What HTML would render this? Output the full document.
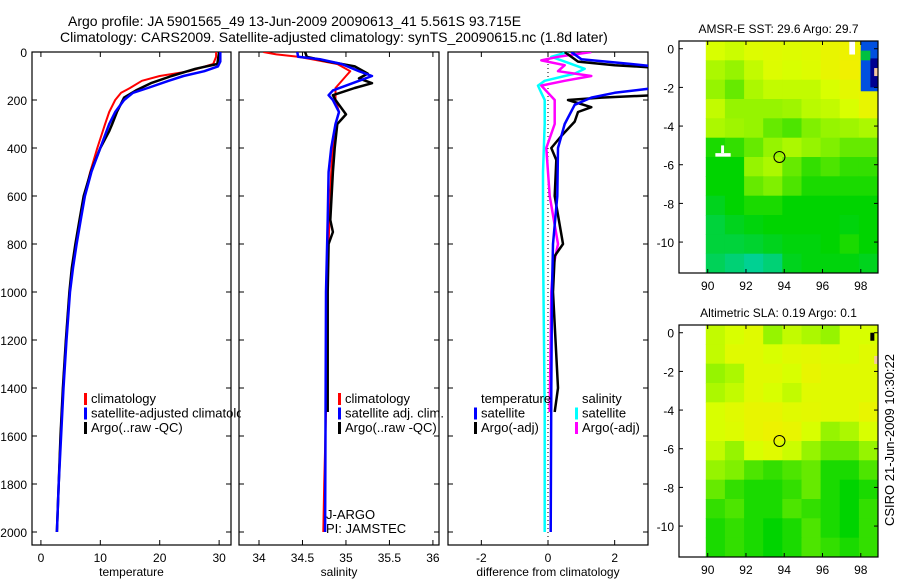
<!DOCTYPE html>
<html><head><meta charset="utf-8">
<style>
html,body{margin:0;padding:0;background:#fff;}
svg{display:block;font-family:"Liberation Sans",sans-serif;}
</style></head>
<body>
<svg id="fig" width="900" height="580" viewBox="0 0 900 580" xmlns="http://www.w3.org/2000/svg">
<defs><clipPath id="legclip"><rect x="0" y="0" width="241" height="580"/></clipPath></defs>
<text x="68" y="26" font-size="14">Argo profile: JA 5901565_49 13-Jun-2009 20090613_41 5.561S 93.715E</text>
<text x="60" y="42" font-size="14">Climatology: CARS2009. Satellite-adjusted climatology: synTS_20090615.nc (1.8d later)</text>
<text transform="translate(894,440) rotate(-90)" text-anchor="middle" font-size="13">CSIRO 21-Jun-2009 10:30:22</text>
</svg>
<script>
// ---------- data ----------
const tempClimDepth=[0,20,50,80,100,120,150,170,200,250,300,400,500,600,700,800,900,1000,1200,1400,1600,1800,2000];
const tempClim=[29.5,29.5,29,25,20,17,15,13.5,12.5,11.5,10.8,9.5,8.3,7.3,6.6,5.9,5.3,4.8,4.2,3.7,3.3,3.0,2.7];
const tempSatDepth=[0,40,60,80,100,120,150,170,200,250,300,400,500,600,700,800,900,1000,1200,1400,1600,1800,2000];
const tempSat=[30.2,30.2,29.8,27.5,24,21.5,18,15.5,14,12.5,11.5,10,8.5,7.4,6.7,6.0,5.4,4.9,4.3,3.8,3.4,3.0,2.7];
const tempArgoDepth=[0,50,70,100,130,160,190,250,300,330,400,500,600,700,800,900,1000,1200,1400,1600,1800,2000];
const tempArgo=[30.0,29.7,26,22,18.5,16,14,12.8,12.0,11.5,10,8.4,7.2,6.5,5.8,5.2,4.8,4.2,3.7,3.3,3.0,2.7];

const salClimDepth=[0,10,20,30,50,80,100,150,200,250,300,400,500,600,800,1000,1500,1800,2000];
const salClim=[34.05,34.2,34.45,34.6,34.9,35.05,35.0,34.88,34.88,34.92,34.88,34.85,34.83,34.82,34.8,34.77,34.77,34.75,34.74];
const salSatDepth=[0,20,30,50,80,100,120,160,180,200,250,300,400,500,700,1000,2000];
const salSat=[34.44,34.45,34.7,34.95,35.15,35.3,35.15,34.85,34.8,34.85,34.92,34.88,34.83,34.8,34.79,34.77,34.76];
const salArgoDepth=[0,20,40,60,90,110,130,150,180,200,260,300,400,500,700,750,800,1000,1400,1500];
const salArgo=[34.53,34.55,34.8,35.1,35.25,35.15,35.3,35.1,34.85,34.88,35.0,34.9,34.87,34.85,34.82,34.85,34.8,34.79,34.79,34.79];

const dTempSatDepth=[0,30,50,60,150,170,190,220,300,400,600,800,1000,1400,2000];
const dTempSat=[0.7,1.0,2.5,3.2,3.2,2.0,1.3,0.8,0.5,0.3,0.28,0.15,0.12,0.1,0.08];
const dTempArgoDepth=[0,40,55,65,180,190,200,230,250,290,350,400,450,600,800,850,1000,1400,1500];
const dTempArgo=[0.5,0.9,2.0,3.2,3.2,1.6,0.6,1.3,0.9,0.8,0.4,0.1,0.25,0.2,0.45,0.2,0.15,0.3,0.2];
const dSalSatDepth=[0,20,40,70,90,120,140,170,200,300,500,800,1500,2000];
const dSalSat=[0.6,0.1,0.5,1.1,0.8,-0.1,-0.3,-0.2,-0.1,-0.1,-0.15,-0.15,-0.1,-0.1];
const dSalArgoDepth=[0,20,35,55,80,100,120,140,170,200,300,400,600,800,900,1000,1500];
const dSalArgo=[1.3,0.3,-0.2,0.5,0.3,1.3,0.5,-0.2,0,0.2,0.2,-0.05,0.05,0.3,0.15,0.1,0.05];

const depthTicks=[0,200,400,600,800,1000,1200,1400,1600,1800,2000];
const tempTicks=[0,10,20,30];
const salTicks=[34,34.5,35,35.5,36];
const salTickLabels=["34","34.5","35","35.5","36"];
const diffTicks=[-2,0,2];
const lonTicks=[90,92,94,96,98];
const latTicks=[0,-2,-4,-6,-8,-10];

// 1-degree grids, rows lat 0.4 -> -11.6, cols lon 89.9 -> 98.9 (0=teal,1=orange)
const sstGrid=[
[0.75,0.72,0.78,0.8,0.78,0.8,0.85,0.88,0.9],
[0.65,0.6,0.7,0.78,0.75,0.78,0.85,0.9,0.88],
[0.6,0.5,0.65,0.7,0.7,0.7,0.75,0.82,0.85],
[0.7,0.6,0.6,0.6,0.62,0.68,0.7,0.75,0.85],
[0.65,0.62,0.6,0.5,0.45,0.55,0.6,0.62,0.65],
[0.35,0.4,0.5,0.6,0.65,0.6,0.55,0.5,0.5],
[0.3,0.3,0.6,0.65,0.5,0.4,0.45,0.4,0.4],
[0.3,0.3,0.5,0.55,0.45,0.35,0.35,0.35,0.35],
[0.25,0.3,0.35,0.35,0.3,0.3,0.3,0.3,0.3],
[0.2,0.25,0.28,0.3,0.3,0.3,0.3,0.28,0.3],
[0.2,0.2,0.22,0.25,0.28,0.28,0.3,0.35,0.3],
[0.15,0.1,0.05,0.1,0.25,0.28,0.28,0.28,0.25]];
const slaGrid=[
[0.7,0.75,0.8,0.6,0.7,0.65,0.6,0.75,0.75],
[0.7,0.8,0.8,0.75,0.8,0.82,0.78,0.75,0.8],
[0.6,0.65,0.8,0.8,0.75,0.85,0.8,0.8,0.8],
[0.65,0.7,0.8,0.75,0.7,0.8,0.8,0.8,0.8],
[0.75,0.8,0.85,0.85,0.8,0.82,0.8,0.8,0.85],
[0.75,0.78,0.85,0.88,0.85,0.75,0.6,0.65,0.75],
[0.7,0.6,0.75,0.8,0.72,0.6,0.5,0.5,0.6],
[0.6,0.55,0.45,0.4,0.45,0.5,0.35,0.35,0.45],
[0.5,0.4,0.35,0.35,0.4,0.5,0.35,0.3,0.35],
[0.4,0.45,0.35,0.35,0.45,0.4,0.35,0.3,0.4],
[0.35,0.4,0.35,0.3,0.35,0.45,0.35,0.3,0.4],
[0.35,0.4,0.35,0.3,0.35,0.45,0.4,0.35,0.4]];
const floatLon=93.75, floatLat=-5.6;

// ---------- helpers ----------
const NS="http://www.w3.org/2000/svg";
const svg=document.getElementById('fig');
function mk(tag,attrs,parent){const e=document.createElementNS(NS,tag);for(const k in attrs)e.setAttribute(k,attrs[k]);(parent||svg).appendChild(e);return e;}
function txt(x,y,s,size,anchor,parent){const t=mk('text',{x:x,y:y,'font-size':size,'text-anchor':anchor||'start'},parent);t.textContent=s;return t;}

const yTop=52, yScale=0.24;
const yD=d=>yTop+d*yScale;

function panel(name,x0,x1,xmin,xmax,ticks,labels,xlabel){
  const g=mk('g',{});
  
  
  const xs=v=>x0+(v-xmin)/(xmax-xmin)*(x1-x0);
  const box=mk('rect',{x:x0,y:yTop,width:x1-x0,height:545-yTop,fill:'none',stroke:'#000','stroke-width':1.2},g);
  
  
  ticks.forEach((v,i)=>{
    const x=xs(v);
    mk('line',{x1:x,y1:545,x2:x,y2:540,stroke:'#000'},g);
    mk('line',{x1:x,y1:yTop,x2:x,y2:yTop+5,stroke:'#000'},g);
    const t=txt(x,562,labels[i],12,'middle',g);
    
    
  });
  depthTicks.forEach(d=>{
    mk('line',{x1:x0,y1:yD(d),x2:x0+5,y2:yD(d),stroke:'#000'},g);
    mk('line',{x1:x1,y1:yD(d),x2:x1-5,y2:yD(d),stroke:'#000'},g);
  });
  const xl=txt((x0+x1)/2,576,xlabel,12,'middle',g);
  
  
  return {g,xs,x0,x1};
}
function series(p,depths,vals,color,w,name){
  const pts=depths.map((d,i)=>p.xs(vals[i]).toFixed(1)+','+yD(d).toFixed(1)).join(' ');
  const pl=mk('polyline',{points:pts,fill:'none',stroke:color,'stroke-width':w,'stroke-linejoin':'round'},p.g);
  
  
  pl.setAttribute('clip-path','url(#clip-'+p.x0+')');
}
function clipFor(p){
  const cp=mk('clipPath',{id:'clip-'+p.x0});
  mk('rect',{x:p.x0,y:yTop,width:p.x1-p.x0,height:545-yTop},cp);
}
function legend(p,x,y,items,clip){
  items.forEach((it,i)=>{
    const yy=y+i*14.5;
    if(it[1]){
      const m=mk('rect',{x:x,y:yy-10,width:3,height:12,fill:it[1]},p.g);
      
      
    }
    const t=txt(x+7,yy,it[0],13,'start',p.g);
    
    
    if(clip)t.setAttribute('clip-path','url(#legclip)');
  });
}

// depth labels
depthTicks.forEach(d=>{
  const t=txt(27,yD(d)+5,String(d),12,'end');
  
  
});

const p1=panel('temperature-panel',32,231,-1.5,32,tempTicks,tempTicks.map(String),'temperature');
clipFor(p1);
series(p1,tempClimDepth,tempClim,'#ff0000',2,'temp-climatology-line');
series(p1,tempArgoDepth,tempArgo,'#000',2.5,'temp-argo-line');
series(p1,tempSatDepth,tempSat,'#0000ff',2.5,'temp-satellite-line');
legend(p1,84,403,[['climatology','#ff0000'],['satellite-adjusted climatology','#0000ff'],['Argo(..raw -QC)','#000']],true);

const p2=panel('salinity-panel',239,439,33.77,36.07,salTicks,salTickLabels,'salinity');
clipFor(p2);
series(p2,salClimDepth,salClim,'#ff0000',2,'sal-climatology-line');
series(p2,salArgoDepth,salArgo,'#000',2.5,'sal-argo-line');
series(p2,salSatDepth,salSat,'#0000ff',2.5,'sal-satellite-line');
legend(p2,338,403,[['climatology','#ff0000'],['satellite adj. clim.','#0000ff'],['Argo(..raw -QC)','#000']]);
const ja=txt(326,519,'J-ARGO',13,'start',p2.g);
const pi=txt(326,533,'PI: JAMSTEC',13,'start',p2.g);

const p3=panel('difference-panel',448,648,-3,3,diffTicks,diffTicks.map(String),'difference from climatology');
clipFor(p3);
mk('line',{x1:p3.xs(0),y1:yTop,x2:p3.xs(0),y2:545,stroke:'#000','stroke-dasharray':'1,3'},p3.g);
series(p3,dSalSatDepth,dSalSat,'#00ffff',2.5,'diff-sal-satellite-line');
series(p3,dSalArgoDepth,dSalArgo,'#ff00ff',2.5,'diff-sal-argo-line');
series(p3,dTempArgoDepth,dTempArgo,'#000',2.5,'diff-temp-argo-line');
series(p3,dTempSatDepth,dTempSat,'#0000ff',2.5,'diff-temp-satellite-line');
legend(p3,474,403,[['temperature',null],['satellite','#0000ff'],['Argo(-adj)','#000']]);
legend(p3,575,403,[['salinity',null],['satellite','#00ffff'],['Argo(-adj)','#ff00ff']]);

// ---------- maps ----------
const stops=[[0,[0,208,176]],[0.3,[0,212,0]],[0.55,[128,240,0]],[0.75,[216,255,0]],[0.9,[240,240,0]],[1,[255,210,0]]];
function cmap(v){
  for(let i=1;i<stops.length;i++){if(v<=stops[i][0]){const a=stops[i-1],b=stops[i];const t=(v-a[0])/(b[0]-a[0]);const c=a[1].map((x,k)=>Math.round(x+(b[1][k]-x)*t));return 'rgb('+c.join(',')+')';}}
  return 'rgb(255,210,0)';
}
function map(name,top,title,grid,extra){
  const g=mk('g',{});
  
  
  const left=679,right=878,bottom=top+232;
  const lonMin=88.5,lonMax=98.9,latMax=0.4,latMin=-11.6;
  const lx=l=>left+(l-lonMin)/(lonMax-lonMin)*(right-left);
  const ly=l=>top+(latMax-l)/(latMax-latMin)*(bottom-top);
  grid.forEach((row,r)=>row.forEach((v,c)=>{
    const x=lx(89.9+c),y=ly(0.4-r);
    const cell=mk('rect',{x:x.toFixed(1),y:y.toFixed(1),width:(lx(90.9+c)-x+0.5).toFixed(1),height:(ly(-0.6-r)-y+0.5).toFixed(1),fill:cmap(v)},g);
    
    
  }));
  if(extra)extra(g,lx,ly);
  const circ=mk('circle',{cx:lx(floatLon),cy:ly(floatLat),r:5.5,fill:'none',stroke:'#000','stroke-width':1},g);
  
  
  mk('rect',{x:left,y:top,width:right-left,height:bottom-top,fill:'none',stroke:'#000','stroke-width':1.2},g);
  lonTicks.forEach(l=>{
    mk('line',{x1:lx(l),y1:bottom,x2:lx(l),y2:bottom-4,stroke:'#000'},g);
    mk('line',{x1:lx(l),y1:top,x2:lx(l),y2:top+4,stroke:'#000'},g);
    const t=txt(lx(l),bottom+17,String(l),12,'middle',g);
    
  });
  latTicks.forEach(l=>{
    mk('line',{x1:left,y1:ly(l),x2:left+4,y2:ly(l),stroke:'#000'},g);
    mk('line',{x1:right,y1:ly(l),x2:right-4,y2:ly(l),stroke:'#000'},g);
    const t=txt(left-5,ly(l)+5,String(l),12,'end',g);
    
  });
  const tt=txt((left+right)/2,top-8,title,12,'middle',g);
  
}
map('sst-map',41,'AMSR-E SST: 29.6 Argo: 29.7',sstGrid,(g,lx,ly)=>{
  mk('rect',{x:lx(98),y:ly(0.4),width:lx(98.9)-lx(98),height:ly(-2.2)-ly(0.4),fill:'#0050e0'},g);
  mk('rect',{x:lx(98.5),y:ly(-0.5),width:lx(98.9)-lx(98.5),height:ly(-2)-ly(-0.5),fill:'#000090'},g);
  mk('rect',{x:lx(98),y:ly(-0.1),width:lx(98.5)-lx(98),height:ly(-0.6)-ly(-0.1),fill:'#00c040'},g);
  mk('rect',{x:lx(97.4),y:ly(0.4),width:lx(97.7)-lx(97.4),height:ly(-0.3)-ly(0.4),fill:'#fff'},g);
  mk('rect',{x:lx(90.7),y:ly(-5),width:3,height:ly(-5.4)-ly(-5),fill:'#fff'},g);
  mk('rect',{x:lx(90.4),y:ly(-5.4),width:lx(91.2)-lx(90.4),height:3.5,fill:'#fff'},g);
  mk('rect',{x:lx(98.7),y:ly(-1),width:lx(98.9)-lx(98.7),height:8,fill:'#f5c8a0'},g);
});
map('sla-map',325,'Altimetric SLA: 0.19 Argo: 0.1',slaGrid,(g,lx,ly)=>{
  mk('rect',{x:lx(98.5),y:ly(0),width:4,height:8,fill:'#000'},g);
  mk('rect',{x:lx(98.7),y:ly(-1.2),width:lx(98.9)-lx(98.7),height:8,fill:'#f5c8a0'},g);
});
</script>
</body></html>
